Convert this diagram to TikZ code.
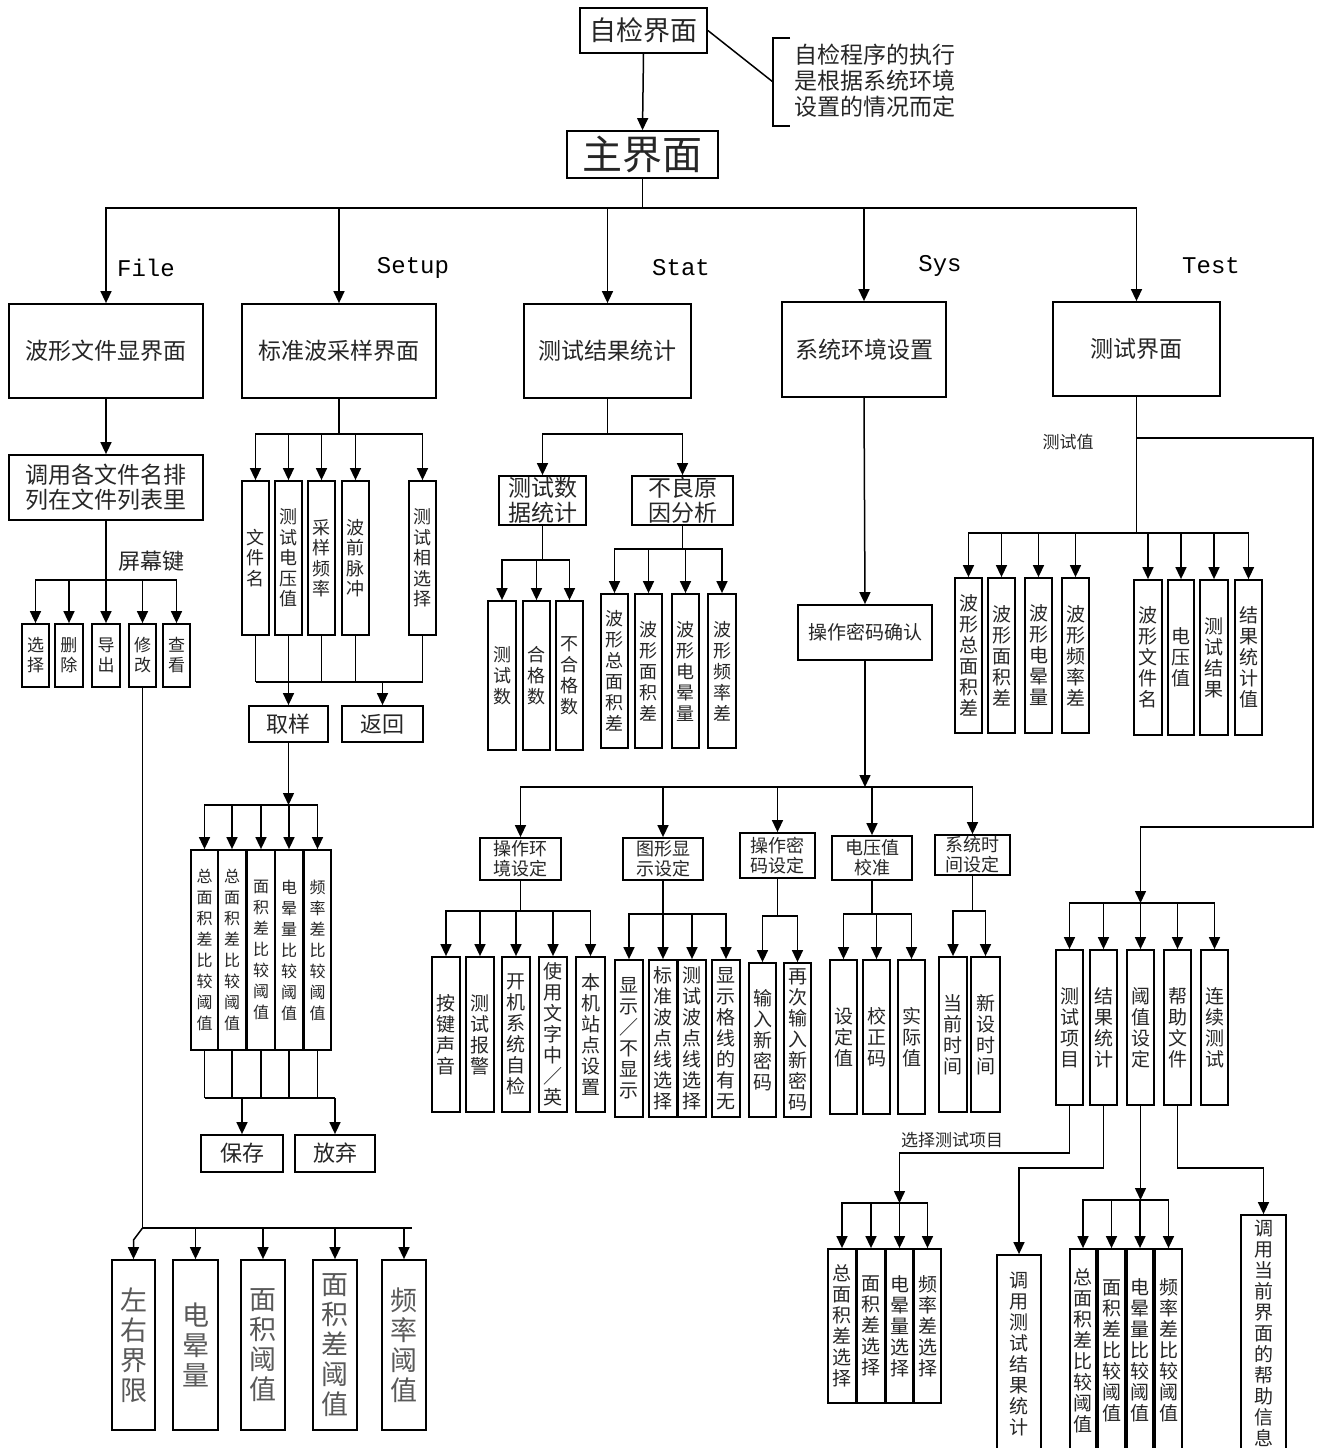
\documentclass[tikz,border=0pt]{standalone}
\usepackage{fontspec}
\setmainfont{Noto Sans CJK SC}
\newfontfamily\monof{Liberation Mono}
\usetikzlibrary{arrows.meta}
\tikzset{
 bx/.style={draw, line width=0.9pt, inner sep=0pt, align=center, text=black!85},
 ln/.style={line width=0.75pt},
 ar/.style={line width=0.75pt, -{Triangle[length=6pt,width=5.5pt]}},
 fA/.style={font=\fontsize{13.5}{15}\selectfont},
 fMain/.style={font=\fontsize{20}{22}\selectfont},
 fNote/.style={font=\fontsize{11.5}{13}\selectfont, align=left, text=black!85},
 fL1/.style={font=\fontsize{11.5}{13}\selectfont},
 fTwo/.style={font=\fontsize{11.5}{12.5}\selectfont},
 fLbl/.style={font=\fontsize{11}{13}\selectfont, text=black!85},
 fLbl2/.style={font=\fontsize{8.5}{10}\selectfont, text=black!85},
 fLat/.style={font=\monof\fontsize{12}{14}\selectfont},
 vF/.style={font=\fontsize{8.5}{10}\selectfont},
 vBig/.style={font=\fontsize{13.5}{15}\selectfont, text=black!65},
 vS/.style={font=\fontsize{9}{10.25}\selectfont},
 fBtn/.style={font=\fontsize{11}{13}\selectfont},
 vT/.style={font=\fontsize{8}{10.5}\selectfont},
 vU/.style={font=\fontsize{9}{10.5}\selectfont},
 fPw/.style={font=\fontsize{9.5}{11}\selectfont},
 fSm/.style={font=\fontsize{9}{10}\selectfont},
 vM/.style={font=\fontsize{9.5}{10.5}\selectfont},
}
\newcommand\pbx[7][]{\node[bx,minimum width={(#4-#3)*0.5pt},minimum height={(#6-#5)*0.5pt},#1] (#2) at ({(#3+#4)/2},{(#5+#6)/2}) {#7};}
\begin{document}
\begin{tikzpicture}[x=0.5pt,y=-0.5pt]
\useasboundingbox (0,0) rectangle (1319,1448);
\fill[white] (0,0) rectangle (1319,1448);
\clip (0,0) rectangle (1319,1448);

% ---------- top ----------
\pbx[fA]{zj}{580}{707}{8}{53}{自检界面}
\pbx[fMain]{zm}{567}{718}{131}{178}{主界面}
\node[fNote, anchor=west] (note) at (787,81) {自检程序的执行\\是根据系统环境\\设置的情况而定};
\coordinate (nb) at (773,82);
\draw[ln] (790,38) -| (773,126) -- (790,126);
\draw[ln] (zj.east) -- (nb);
\draw[ar] (zj.south) -- (zm.north);

% ---------- level 1 ----------
\pbx[fL1]{file}{9}{203}{304}{398}{波形文件显界面}
\pbx[fL1]{setup}{242}{436}{304}{398}{标准波采样界面}
\pbx[fL1]{stat}{524}{691}{304}{398}{测试结果统计}
\pbx[fL1]{sys}{782}{946}{302}{397}{系统环境设置}
\pbx[fL1]{test}{1053}{1220}{302}{396}{测试界面}
\coordinate (mj) at (zm.south |- 0,208);
\draw[ln] (zm.south) -- (mj);
\foreach \c in {file,setup,stat,sys,test} \draw[ar] (mj) -| (\c.north);
\node[fLat] (lfile) at (146,268) {File};
\node[fLat] (lsetup) at (413,268) {Setup};
\node[fLat] (lstat) at (681,268) {Stat};
\node[fLat] (lsys) at (940,266) {Sys};
\node[fLat] (ltest) at (1211,266) {Test};

% ---------- File ----------
\pbx[fTwo]{fl}{9}{203}{455}{520}{调用各文件名排\\列在文件列表里}
\draw[ar] (file.south) -- (fl.north);
\coordinate (fj) at (fl.south |- 0,580);
\draw[ln] (fl.south) -- (fj);
\node[fLbl] (lpmj) at (152,561) {屏幕键};
\pbx[vF]{f1}{22}{49}{624}{687}{选\\择}
\pbx[vF]{f2}{55}{83}{624}{687}{删\\除}
\pbx[vF]{f3}{92}{120}{624}{687}{导\\出}
\pbx[vF]{f4}{129}{156}{624}{687}{修\\改}
\pbx[vF]{f5}{163}{190}{624}{687}{查\\看}
\foreach \i in {1,...,5} \draw[ar] (fj) -| (f\i.north);
\coordinate (xj) at (f4.south |- 0,1228);
\draw[ln] (f4.south) -- (xj);
\pbx[vBig]{g1}{112}{155}{1260}{1430}{左\\右\\界\\限}
\pbx[vBig]{g2}{173}{218}{1260}{1430}{电\\晕\\量}
\pbx[vBig]{g3}{241}{285}{1260}{1430}{面\\积\\阈\\值}
\pbx[vBig]{g4}{313}{357}{1260}{1430}{面\\积\\差\\阈\\值}
\pbx[vBig]{g5}{382}{426}{1260}{1430}{频\\率\\阈\\值}
\coordinate (xe) at (412,1228);
\draw[ln] (xj) -- (xe);
\draw[ar] (xj) -- ([yshift=-6pt]g1.north |- xj) -- (g1.north);
\foreach \i in {2,...,5} \draw[ar] (g\i.north |- xj) -- (g\i.north);

% ---------- Setup ----------
\coordinate (sj) at (setup.south |- 0,434);
\draw[ln] (setup.south) -- (sj);
\pbx[vS]{s1}{242}{269}{481}{635}{文\\件\\名}
\pbx[vS]{s2}{275}{302}{481}{635}{测\\试\\电\\压\\值}
\pbx[vS]{s3}{308}{335}{481}{635}{采\\样\\频\\率}
\pbx[vS]{s4}{342}{369}{481}{635}{波\\前\\脉\\冲}
\pbx[vS]{s5}{409}{436}{481}{635}{测\\试\\相\\选\\择}
\foreach \i in {1,...,5} \draw[ar] (sj) -| (s\i.north);
\pbx[fBtn]{qy}{249}{328}{706}{742}{取样}
\pbx[fBtn]{fh}{342}{423}{706}{742}{返回}
\coordinate (sb) at (s1.south |- 0,682);
\foreach \i in {1,3,4,5} \draw[ln] (s\i.south) -- (s\i.south |- sb);
\draw[ln] (sb) -- (s5.south |- sb);
\draw[ar] (s2.south) -- (qy.north);
\draw[ar] (fh.north |- sb) -- (fh.north);
\coordinate (qj) at (qy.south |- 0,805);
\draw[ar] (qy.south) -- (qj);
\pbx[vT]{h1}{191}{218}{850}{1050}{总\\面\\积\\差\\比\\较\\阈\\值}
\pbx[vT]{h2}{218}{246}{850}{1050}{总\\面\\积\\差\\比\\较\\阈\\值}
\pbx[vT]{h3}{247}{275}{850}{1050}{面\\积\\差\\比\\较\\阈\\值}
\pbx[vT]{h4}{275}{303}{850}{1050}{电\\晕\\量\\比\\较\\阈\\值}
\pbx[vT]{h5}{304}{331}{850}{1050}{频\\率\\差\\比\\较\\阈\\值}
\foreach \i in {1,...,5} \draw[ar] (qj) -| (h\i.north);
\coordinate (hb) at (h1.south |- 0,1098);
\foreach \i in {1,...,5} \draw[ln] (h\i.south) -- (h\i.south |- hb);
\pbx[fBtn]{bc}{201}{283}{1135}{1172}{保存}
\pbx[fBtn]{fq}{295}{375}{1135}{1172}{放弃}
\draw[ln] (hb) -- (fq.north |- hb);
\draw[ar] (bc.north |- hb) -- (bc.north);
\draw[ar] (fq.north |- hb) -- (fq.north);

% ---------- Stat ----------
\coordinate (tj) at (stat.south |- 0,434);
\draw[ln] (stat.south) -- (tj);
\pbx[fTwo]{sd}{499}{586}{476}{525}{测试数\\据统计}
\pbx[fTwo]{bl}{632}{733}{476}{525}{不良原\\因分析}
\draw[ar] (tj) -| (sd.north);
\draw[ar] (tj) -| (bl.north);
\coordinate (sdj) at (sd.south |- 0,560);
\draw[ln] (sd.south) -- (sdj);
\pbx[vU]{u1}{488}{516}{601}{750}{测\\试\\数}
\pbx[vU]{u2}{523}{550}{601}{750}{合\\格\\数}
\pbx[vU]{u3}{556}{583}{601}{750}{不\\合\\格\\数}
\foreach \i in {1,2,3} \draw[ar] (sdj) -| (u\i.north);
\coordinate (blj) at (bl.south |- 0,549);
\draw[ln] (bl.south) -- (blj);
\pbx[vU]{w1}{601}{628}{594}{748}{波\\形\\总\\面\\积\\差}
\pbx[vU]{w2}{635}{662}{594}{748}{波\\形\\面\\积\\差}
\pbx[vU]{w3}{672}{699}{594}{748}{波\\形\\电\\晕\\量}
\pbx[vU]{w4}{708}{736}{594}{748}{波\\形\\频\\率\\差}
\foreach \i in {1,...,4} \draw[ar] (blj) -| (w\i.north);

% ---------- Sys ----------
\pbx[fPw]{pw}{798}{932}{605}{660}{操作密码确认}
\draw[ar] (sys.south) -- (pw.north);
\coordinate (pj) at (pw.south |- 0,787);
\draw[ar] (pw.south) -- (pj);
\pbx[fSm]{k1}{480}{561}{838}{880}{操作环\\境设定}
\pbx[fSm]{k2}{623}{703}{838}{880}{图形显\\示设定}
\pbx[fSm]{k3}{740}{815}{833}{878}{操作密\\码设定}
\pbx[fSm]{k4}{832}{912}{836}{880}{电压值\\校准}
\pbx[fSm]{k5}{935}{1010}{835}{875}{系统时\\间设定}
\foreach \i in {1,...,5} \draw[ar] (pj) -| (k\i.north);

\pbx[vM]{m1}{432}{460}{957}{1112}{按\\键\\声\\音}
\pbx[vM]{m2}{466}{494}{957}{1112}{测\\试\\报\\警}
\pbx[vM]{m3}{502}{530}{957}{1112}{开\\机\\系\\统\\自\\检}
\pbx[vM]{m4}{539}{567}{957}{1112}{使\\用\\文\\字\\中\\／\\英}
\pbx[vM]{m5}{576}{605}{957}{1112}{本\\机\\站\\点\\设\\置}
\coordinate (k1j) at (k1.south |- 0,911);
\draw[ln] (k1.south) -- (k1j);
\foreach \i in {1,...,5} \draw[ar] (k1j) -| (m\i.north);

\pbx[vM]{d1}{615}{643}{960}{1117}{显\\示\\／\\不\\显\\示}
\pbx[vM]{d2}{649}{677}{960}{1117}{标\\准\\波\\点\\线\\选\\择}
\pbx[vM]{d3}{678}{706}{960}{1117}{测\\试\\波\\点\\线\\选\\择}
\pbx[vM]{d4}{712}{740}{960}{1117}{显\\示\\格\\线\\的\\有\\无}
\coordinate (k2j) at (k2.south |- 0,914);
\draw[ln] (k2.south) -- (k2j);
\foreach \i in {1,...,4} \draw[ar] (k2j) -| (d\i.north);

\pbx[vM]{c1}{749}{776}{963}{1117}{输\\入\\新\\密\\码}
\pbx[vM]{c2}{784}{811}{963}{1117}{再\\次\\输\\入\\新\\密\\码}
\coordinate (k3j) at (k3.south |- 0,916);
\draw[ln] (k3.south) -- (k3j);
\foreach \i in {1,2} \draw[ar] (k3j) -| (c\i.north);

\pbx[vM]{v1}{830}{857}{960}{1114}{设\\定\\值}
\pbx[vM]{v2}{863}{890}{960}{1114}{校\\正\\码}
\pbx[vM]{v3}{898}{925}{960}{1114}{实\\际\\值}
\coordinate (k4j) at (k4.south |- 0,914);
\draw[ln] (k4.south) -- (k4j);
\foreach \i in {1,2,3} \draw[ar] (k4j) -| (v\i.north);

\pbx[vM]{t1}{939}{967}{957}{1112}{当\\前\\时\\间}
\pbx[vM]{t2}{971}{1000}{957}{1112}{新\\设\\时\\间}
\coordinate (k5j) at (k5.south |- 0,911);
\draw[ln] (k5.south) -- (k5j);
\foreach \i in {1,2} \draw[ar] (k5j) -| (t\i.north);

% ---------- Test ----------
\coordinate (ej) at (test.south |- 0,533);
\coordinate (ek) at (test.south |- 0,438);
\draw[ln] (test.south) -- (ej);
\node[fLbl2] (lcsz) at (1068,442) {测试值};
\pbx[vM]{n1}{955}{982}{578}{733}{波\\形\\总\\面\\积\\差}
\pbx[vM]{n2}{988}{1015}{578}{733}{波\\形\\面\\积\\差}
\pbx[vM]{n3}{1025}{1052}{578}{733}{波\\形\\电\\晕\\量}
\pbx[vM]{n4}{1062}{1089}{578}{733}{波\\形\\频\\率\\差}
\pbx[vM]{n5}{1134}{1162}{580}{735}{波\\形\\文\\件\\名}
\pbx[vM]{n6}{1168}{1194}{580}{735}{电\\压\\值}
\pbx[vM]{n7}{1200}{1228}{580}{735}{测\\试\\结\\果}
\pbx[vM]{n8}{1235}{1262}{580}{735}{结\\果\\统\\计\\值}
\foreach \i in {1,...,8} \draw[ar] (ej) -| (n\i.north);

\pbx[vM]{p1}{1056}{1083}{950}{1105}{测\\试\\项\\目}
\pbx[vM]{p2}{1090}{1117}{950}{1105}{结\\果\\统\\计}
\pbx[vM]{p3}{1127}{1154}{950}{1105}{阈\\值\\设\\定}
\pbx[vM]{p4}{1164}{1191}{950}{1105}{帮\\助\\文\\件}
\pbx[vM]{p5}{1201}{1228}{950}{1105}{连\\续\\测\\试}
\coordinate (rt) at (1313,827);
\coordinate (lj) at (p3.north |- 0,903);
\draw[ar] (ek) -| (rt) -| (lj);
\foreach \i in {1,...,5} \draw[ar] (lj) -| (p\i.north);

% test items
\pbx[vM]{q1}{828}{856}{1249}{1403}{总\\面\\积\\差\\选\\择}
\pbx[vM]{q2}{857}{885}{1249}{1403}{面\\积\\差\\选\\择}
\pbx[vM]{q3}{886}{913}{1249}{1403}{电\\晕\\量\\选\\择}
\pbx[vM]{q4}{914}{941}{1249}{1403}{频\\率\\差\\选\\择}
\coordinate (qxj) at (q3.north |- 0,1203);
\draw[ar] (p1.south) -- (p1.south |- 0,1153) -| (qxj);
\node[fLbl2] (lxz) at (952,1140) {选择测试项目};
\foreach \i in {1,...,4} \draw[ar] (qxj) -| (q\i.north);

% result statistics
\pbx[vM]{dy}{997}{1041}{1255}{1452}{调\\用\\测\\试\\结\\果\\统\\计}
\draw[ar] (p2.south) -- (p2.south |- 0,1168) -| (dy.north);

% thresholds
\pbx[vM]{r1}{1070}{1096}{1249}{1452}{总\\面\\积\\差\\比\\较\\阈\\值}
\pbx[vM]{r2}{1098}{1125}{1249}{1452}{面\\积\\差\\比\\较\\阈\\值}
\pbx[vM]{r3}{1127}{1153}{1249}{1452}{电\\晕\\量\\比\\较\\阈\\值}
\pbx[vM]{r4}{1155}{1182}{1249}{1452}{频\\率\\差\\比\\较\\阈\\值}
\coordinate (yzj) at (p3.south |- 0,1200);
\draw[ar] (p3.south) -- (yzj);
\foreach \i in {1,...,4} \draw[ar] (yzj) -| (r\i.north);

% help
\pbx[vM]{hp}{1241}{1286}{1215}{1452}{调\\用\\当\\前\\界\\面\\的\\帮\\助\\信\\息}
\draw[ar] (p4.south) -- (p4.south |- 0,1168) -| (hp.north);
\end{tikzpicture}
\end{document}
